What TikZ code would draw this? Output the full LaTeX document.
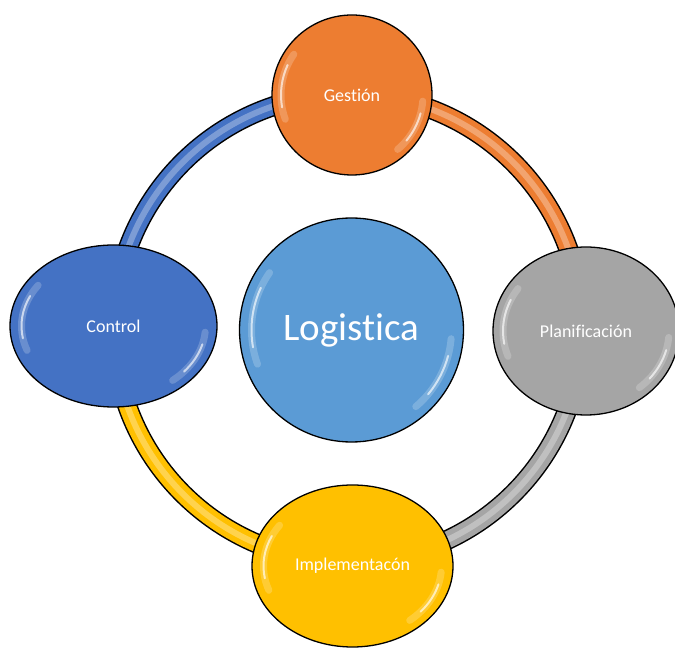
\documentclass[tikz,border=0pt]{standalone}
\usepackage{fontspec}
\setmainfont{Carlito}[Ligatures=NoCommon]
\usetikzlibrary{calc,shapes.geometric}
\definecolor{gestorange}{HTML}{ED7D31}
\definecolor{plangray}{HTML}{A5A5A5}
\definecolor{implyellow}{HTML}{FFC000}
\definecolor{ctrlblue}{HTML}{4472C4}
\definecolor{logblue}{HTML}{5B9BD5}
% one quarter of the ring: colour, start angle, end angle
\newcommand{\ringband}[3]{%
  \draw[line width=20pt, black] (ring) ++(#2:234pt) arc (#2:#3:234pt);
  \draw[line width=17pt, #1] (ring) ++(#2:234pt) arc (#2:#3:234pt);
  \draw[line width=6pt, white, opacity=0.3] (ring) ++(#2:234pt) arc (#2:#3:234pt);
}
% glassy highlights inside a bubble: node, x radius, y radius
\newcommand{\glint}[3]{%
  \foreach \from/\to in {145/200, -50/-5} {
    \draw[glare, line width=7pt, opacity=0.2] ($(#1)+(\from:#2 and #3)$) arc[start angle=\from, end angle=\to, x radius=#2, y radius=#3];
    \draw[glare, line width=2pt, opacity=0.65] ($(#1)+(\from+10:#2 and #3)$) arc[start angle=\from+10, end angle=\to-10, x radius=#2, y radius=#3];
  }
}
\tikzset{
  bubble/.style={draw=black, line width=1.3pt, text=white, inner sep=0pt},
  glare/.style={white, line cap=round},
  small/.style={font=\fontsize{18}{21}\selectfont},
}

\begin{document}
\begin{tikzpicture}[x=1pt, y=1pt]
		\useasboundingbox (0, 0) rectangle (675, 648);
		
		%%%%% RING %%%%%
		\coordinate (ring) at (348, 320);
		\ringband{gestorange}{90}{0}
		\ringband{plangray}{0}{-90}
		\ringband{implyellow}{-90}{-180}
		\ringband{ctrlblue}{180}{90}
		
		%%%%% BUBBLES %%%%%
		\node[bubble, circle, fill=logblue, minimum size=224pt, font=\fontsize{39}{44}\selectfont] (logi) at (351.5, 318) {Logistica};
		\glint{logi}{100pt}{100pt}
		
		\node[bubble, circle, fill=gestorange, minimum size=160pt, small] (gest) at (352, 553) {Gestión};
		\glint{gest}{71pt}{71pt}
		
		\node[bubble, ellipse, fill=plangray, minimum width=186pt, minimum height=168pt, small] (plan) at (586, 317) {Planificación};
		\glint{plan}{83pt}{74pt}
		
		\node[bubble, ellipse, fill=implyellow, minimum width=201pt, minimum height=162pt, small] (impl) at (352.5, 82) {Implementacón};
		\glint{impl}{89pt}{71pt}
		
		\node[bubble, ellipse, fill=ctrlblue, minimum width=207pt, minimum height=162pt, small] (ctrl) at (113.5, 322) {Control};
		\glint{ctrl}{92pt}{71pt}
		
\end{tikzpicture}
\end{document}
